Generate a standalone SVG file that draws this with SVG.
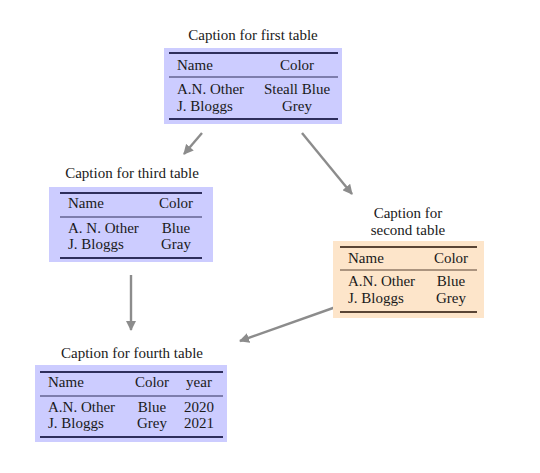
<svg xmlns="http://www.w3.org/2000/svg" width="540" height="473" viewBox="0 0 540 473" font-family="'Liberation Serif', 'DejaVu Serif', serif">
<defs>
<marker id="ah" viewBox="0 0 10 10" refX="9" refY="5" markerWidth="4.2" markerHeight="4.2" orient="auto" markerUnits="strokeWidth">
<path d="M0,0 L10,5 L0,10 z" fill="#8c8c8c"/>
</marker>
<style>
text{font-family:'Liberation Serif','DejaVu Serif',serif;font-size:15px;fill:#1a1a1a}
.c{text-anchor:middle}
.blue{fill:#ccccff}
.orange{fill:#fde5ca}
.rb{stroke:#2e2e5c;fill:none}
.ro{stroke:#5a4535;fill:none}
.thick{stroke-width:2}
.thin{stroke-width:1.1}
.conn{stroke:#8c8c8c;stroke-width:2.4;fill:none;marker-end:url(#ah)}
</style>
</defs>
<rect width="540" height="473" fill="#ffffff"/>
<g id="connectors">
<line class="conn" x1="202" y1="133" x2="184" y2="154"/>
<line class="conn" x1="302" y1="133" x2="352" y2="194"/>
<line class="conn" x1="131" y1="275" x2="131" y2="330"/>
<line class="conn" x1="350" y1="302" x2="240" y2="341"/>
</g>
<g id="table1">
<text class="c" x="253" y="40">Caption for first table</text>
<rect class="blue" x="164" y="48" width="178" height="76"/>
<line class="rb thick" x1="169" y1="53" x2="338" y2="53"/>
<line class="rb thin" x1="169" y1="77" x2="338" y2="77"/>
<line class="rb thick" x1="169" y1="119" x2="338" y2="119"/>
<text x="177" y="70">Name</text>
<text class="c" x="297" y="70">Color</text>
<text x="177" y="94">A.N. Other</text>
<text class="c" x="297" y="94">Steall Blue</text>
<text x="177" y="111">J. Bloggs</text>
<text class="c" x="297" y="111">Grey</text>
</g>
<g id="table3">
<text class="c" x="132" y="178">Caption for third table</text>
<rect class="blue" x="49" y="187" width="164" height="75"/>
<line class="rb thick" x1="60" y1="193" x2="202" y2="193"/>
<line class="rb thin" x1="60" y1="217" x2="202" y2="217"/>
<line class="rb thick" x1="60" y1="258" x2="202" y2="258"/>
<text x="68" y="208">Name</text>
<text class="c" x="176" y="208">Color</text>
<text x="68" y="233">A. N. Other</text>
<text class="c" x="176" y="233">Blue</text>
<text x="68" y="249">J. Bloggs</text>
<text class="c" x="176" y="249">Gray</text>
</g>
<g id="table2">
<text class="c" x="408" y="218">Caption for</text>
<text class="c" x="408" y="235">second table</text>
<rect class="orange" x="333" y="241" width="151" height="77"/>
<line class="ro thick" x1="340" y1="247" x2="477" y2="247"/>
<line class="ro thin" x1="340" y1="270" x2="477" y2="270"/>
<line class="ro thick" x1="340" y1="312" x2="477" y2="312"/>
<text x="348" y="263">Name</text>
<text class="c" x="451" y="263">Color</text>
<text x="348" y="286">A.N. Other</text>
<text class="c" x="451" y="286">Blue</text>
<text x="348" y="303">J. Bloggs</text>
<text class="c" x="451" y="303">Grey</text>
</g>
<g id="table4">
<text class="c" x="132" y="358">Caption for fourth table</text>
<rect class="blue" x="35" y="365" width="192" height="77"/>
<line class="rb thick" x1="40" y1="372" x2="223" y2="372"/>
<line class="rb thin" x1="40" y1="396" x2="223" y2="396"/>
<line class="rb thick" x1="40" y1="437" x2="223" y2="437"/>
<text x="48" y="387">Name</text>
<text class="c" x="152" y="387">Color</text>
<text class="c" x="199" y="387">year</text>
<text x="48" y="412">A.N. Other</text>
<text class="c" x="152" y="412">Blue</text>
<text class="c" x="199" y="412">2020</text>
<text x="48" y="428">J. Bloggs</text>
<text class="c" x="152" y="428">Grey</text>
<text class="c" x="199" y="428">2021</text>
</g>
</svg>
